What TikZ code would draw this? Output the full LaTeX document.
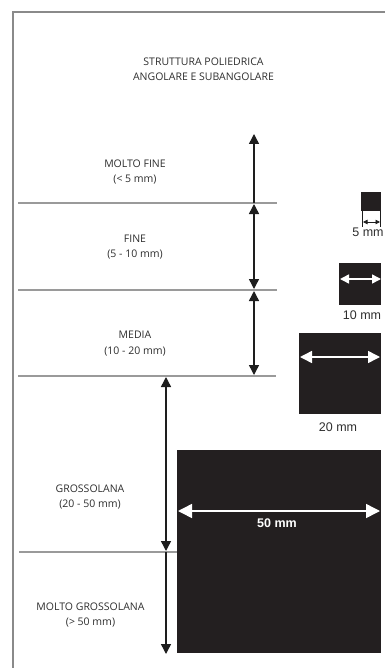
\documentclass[tikz,border=0pt]{standalone}
\usepackage{fontspec}
\setmainfont{Open Sans}
\newfontfamily\arialf{Liberation Sans}
\usetikzlibrary{arrows.meta}
\definecolor{sqc}{HTML}{231F20}
\definecolor{frc}{HTML}{8A8A8A}
\definecolor{hlc}{HTML}{9A9A9A}
\definecolor{txc}{HTML}{2E2E2E}
\definecolor{arc}{HTML}{1E1E1E}
\begin{document}
\begin{tikzpicture}[x=1pt,y=-1pt,
  lbl/.style={font=\fontsize{10.5}{15.5}\selectfont, text=txc, align=center, inner sep=0pt},
  dimlbl/.style={font=\arialf\fontsize{12.5}{14}\selectfont, text=txc, inner sep=0pt},
  sqbox/.style={fill=sqc, draw=none, inner sep=0pt},
  hline/.style={draw=hlc, line width=1.1pt},
  frame/.style={draw=frc, line width=1.4pt},
  arr/.style={draw=arc, line width=1.4pt, -{Triangle[width=10pt,length=10pt]}},
  darr/.style={draw=arc, line width=1.4pt, {Triangle[width=10pt,length=10pt]}-{Triangle[width=10pt,length=10pt]}},
  warr/.style={draw=white, line width=1.5pt, {Triangle[width=#1,length=#1]}-{Triangle[width=#1,length=#1]}},
  tick/.style={draw=arc, line width=0.6pt},
  sarr/.style={draw=arc, line width=0.8pt, {Triangle[width=4.5pt,length=4.5pt]}-{Triangle[width=4.5pt,length=4.5pt]}}
]
\useasboundingbox (0,0) rectangle (384,668);
% frame
\coordinate (ftr) at (390,12);
\coordinate (ftl) at (13,12);
\coordinate (fbl) at (13,672);
\draw[frame] (ftr) -- (ftl) -- (fbl);

% title
\node[lbl] (title) at (203.5,69) {STRUTTURA POLIEDRICA\\ANGOLARE E SUBANGOLARE};

% squares
\node[sqbox, minimum width=20pt, minimum height=19pt, anchor=north east] (s5) at (381,192) {};
\node[sqbox, minimum width=42pt, minimum height=42pt, anchor=north east] (s10) at (381,263) {};
\node[sqbox, minimum width=82pt, minimum height=81pt, anchor=north east] (s20) at (381,333) {};
\node[sqbox, minimum width=204pt, minimum height=203pt, anchor=north east] (s50) at (381,450) {};

% horizontal lines
\coordinate (h1a) at (18,203); \coordinate (h1b) at (277,203);
\coordinate (h2a) at (18,290); \coordinate (h2b) at (277,290);
\coordinate (h3a) at (18,376); \coordinate (h3b) at (276,376);
\coordinate (h4a) at (19,552);
\draw[hline] (h1a) -- (h1b);
\draw[hline] (h2a) -- (h2b);
\draw[hline] (h3a) -- (h3b);
\draw[hline] (h4a) -- (s50.west |- h4a);

% vertical arrows
\coordinate (a0) at (254,203); \coordinate (a0t) at (254,134);
\coordinate (a1t) at (254,204); \coordinate (a1b) at (254,289);
\coordinate (a2t) at (254,291); \coordinate (a2b) at (254,375);
\coordinate (b1t) at (166,377); \coordinate (b1b) at (166,551);
\coordinate (b2t) at (166,552); \coordinate (b2b) at (166,654);
\draw[arr] (a0) -- (a0t);
\draw[darr] (a1t) -- (a1b);
\draw[darr] (a2t) -- (a2b);
\draw[darr] (b1t) -- (b1b);
\draw[arr] (b2t) -- (b2b);

% labels
\node[lbl] (lmf) at (135,172) {MOLTO FINE\\(< 5 mm)};
\node[lbl] (lf) at (135,247) {FINE\\(5 - 10 mm)};
\node[lbl] (lm) at (135,343.5) {MEDIA\\(10 - 20 mm)};
\node[lbl] (lg) at (90,497) {GROSSOLANA\\(20 - 50 mm)};
\node[lbl] (lmg) at (90.5,615) {MOLTO GROSSOLANA\\(> 50 mm)};

% 5 mm dimension
\coordinate (t1a) at (362.5,211); \coordinate (t1b) at (362.5,227);
\coordinate (t2a) at (380.5,211); \coordinate (t2b) at (380.5,227);
\draw[tick] (t1a) -- (t1b);
\draw[tick] (t2a) -- (t2b);
\coordinate (d5a) at (363,222); \coordinate (d5b) at (380,222);
\draw[sarr] (d5a) -- (d5b);
\node[dimlbl] (l5) at (368,232) {5 mm};

% white arrows
\coordinate (w10a) at (340,279); \coordinate (w10b) at (381,279);
\draw[warr=9pt] (w10a) -- (w10b);
\node[dimlbl] (l10) at (362,315) {10 mm};

\coordinate (w20a) at (300,357); \coordinate (w20b) at (380,357);
\draw[warr=12pt] (w20a) -- (w20b);
\node[dimlbl] (l20) at (338,427) {20 mm};

\coordinate (w50a) at (178,511); \coordinate (w50b) at (380,511);
\draw[warr=14pt] (w50a) -- (w50b);
\node[dimlbl, text=white, font=\arialf\bfseries\fontsize{12.5}{14}\selectfont] (l50) at (277,523) {50 mm};
\end{tikzpicture}
\end{document}
